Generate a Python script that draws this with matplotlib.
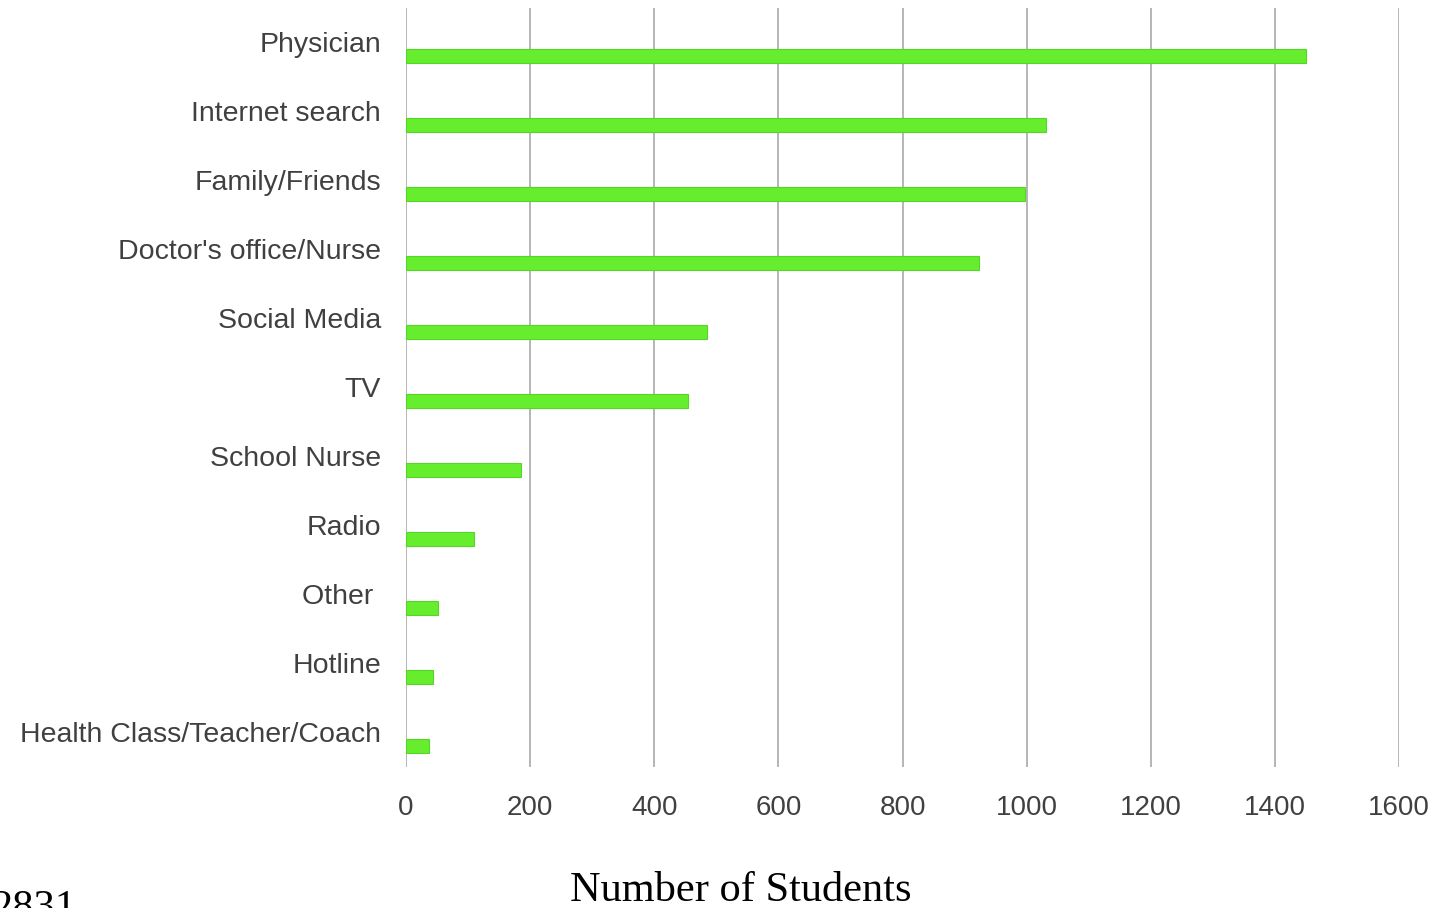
import numpy as np
import matplotlib
matplotlib.use('Agg')
import matplotlib.pyplot as plt

# Sources of information (number of students)
categories = ['Physician', 'Internet search', 'Family/Friends', "Doctor's office/Nurse",
              'Social Media', 'TV', 'School Nurse', 'Radio', 'Other ', 'Hotline',
              'Health Class/Teacher/Coach']
counts = [1450, 1031, 997, 923, 485, 454, 185, 110, 52, 44, 37]
x_ticks = [0, 200, 400, 600, 800, 1000, 1200, 1400, 1600]

plt.rcParams['font.family'] = ['Liberation Sans', 'DejaVu Sans']

fig = plt.figure(figsize=(14.37, 9.08), dpi=100)
ax = fig.add_axes([0.2825, 0.1553, 0.6911, 0.8359])

pos = np.arange(len(categories))
# bars sit just below each category label
ax.barh(pos + 0.2, counts, height=0.2, color='#66ee2e', edgecolor='#55d626', linewidth=0.8, zorder=3)

ax.set_yticks(pos)
ax.set_yticklabels(categories)
ax.set_ylim(len(categories) - 0.5, -0.5)
ax.set_xlim(0, 1600)
ax.set_xticks(x_ticks)

ax.grid(axis='x', color='#b5b5b5', linewidth=1.4, zorder=0)
for s in ax.spines.values():
    s.set_visible(False)
ax.tick_params(axis='y', length=0, labelsize=20.5, labelcolor='#404040', pad=18)
ax.tick_params(axis='x', length=0, labelsize=20, labelcolor='#404040', pad=20)

fig.text(0.5157, 0.008, 'Number of Students', ha='center', va='baseline',
         fontsize=30.5, family='Liberation Serif', color='black')
fig.text(-0.006, -0.012, '2831', ha='left', va='baseline',
         fontsize=30.5, family='Liberation Serif', color='black')

fig.savefig('out.png', dpi=100)
